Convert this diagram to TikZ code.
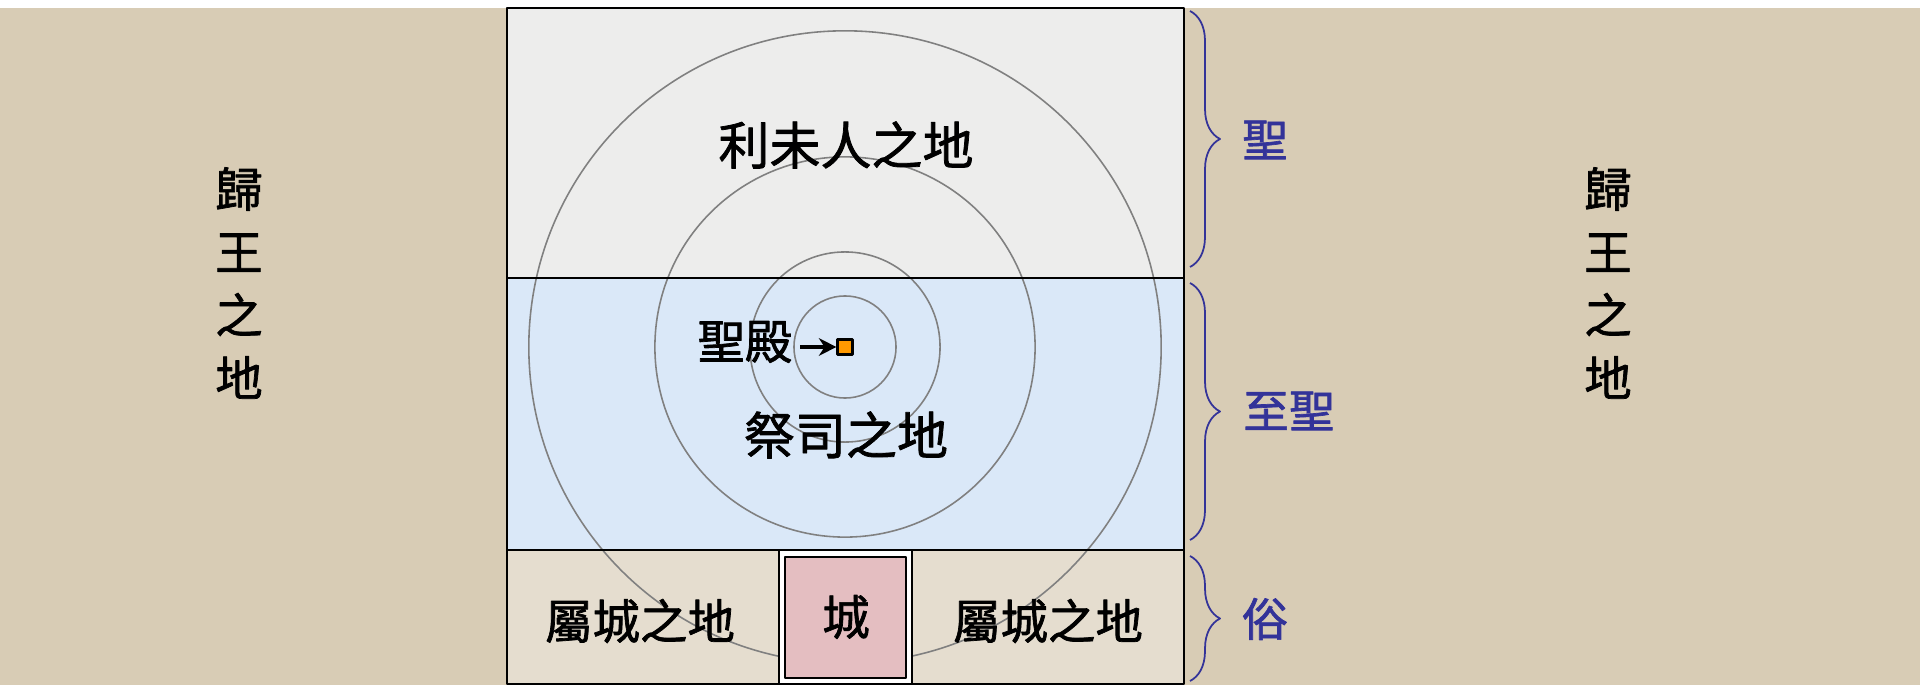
\documentclass[tikz,border=0pt]{standalone}
\usepackage{fontspec}
\setmainfont{Noto Sans CJK TC}[BoldFont=Noto Sans CJK TC, BoldFeatures={FakeBold=1.5}]
\usetikzlibrary{decorations.pathreplacing,arrows.meta}
\definecolor{canvas}{RGB}{216,204,181}
\definecolor{zonetop}{RGB}{237,237,236}
\definecolor{zonemid}{RGB}{218,232,248}
\definecolor{zonelow}{RGB}{229,221,207}
\definecolor{citypink}{RGB}{228,190,193}
\definecolor{holyblue}{RGB}{51,51,153}
\definecolor{sqorange}{RGB}{255,153,0}
\tikzset{
  edge/.style={line width=0.6pt, draw=black},
  ring/.style={line width=0.45pt, draw=black!50},
  bigtext/.style={font=\fontsize{14.5}{17}\bfseries},
  midtext/.style={font=\fontsize{13.5}{16}\bfseries},
  vtext/.style={font=\fontsize{13.5}{17.9}\bfseries, align=center},
  holy/.style={font=\fontsize{13}{16}\bfseries, text=holyblue},
  bracket/.style={draw=holyblue, line width=0.5pt, decorate, decoration={brace, amplitude=0.3cm}},
  sanctum/.style={draw=black, fill=sqorange, line width=0.6pt, minimum size=0.15cm, inner sep=0pt}
}
\begin{document}
\begin{tikzpicture}[x=0.01cm, y=-0.01cm, >={Stealth[length=5pt,width=5pt]}, line join=round]
\useasboundingbox (0,0) rectangle (1920,685);
% nền
\fill[white] (0,0) rectangle (1920,685);
\fill[canvas] (0,8) rectangle (1920,685);
% ba vùng giữa
\fill[zonetop] (507,8) rectangle (1184,278);
\fill[zonemid] (507,278) rectangle (1184,550);
\fill[zonelow] (507,550) rectangle (1184,684);
% các vòng tròn
\foreach \r in {0.51,0.95,1.90,3.16}
\draw[ring] (845,347) circle[radius=\r cm];
% khung
\draw[edge] (507,8) rectangle (1184,684);
\draw[edge] (507,278)--(1184,278);
\draw[edge] (507,550)--(1184,550);
\draw[edge, fill=white] (779,550) rectangle (912,684);
\draw[edge, fill=citypink] (785,557) rectangle (906,678);
% chữ
\node[bigtext] (levi) at (846,145) {利未人之地};
\node[bigtext] (priest) at (846,435) {祭司之地};
\node[midtext, inner sep=2pt] (temple) at (745,342) {聖殿};
\node[sanctum] (sanct) at (845,347) {};
\draw[->, line width=0.9pt] (temple.east |- sanct) -- (sanct.west);
\node[midtext] (landL) at (640,621) {屬城之地};
\node[midtext] (landR) at (1048,621) {屬城之地};
\node[midtext] (city) at (846,617) {城};
\node[vtext] (kingL) at (239,283) {歸\\王\\之\\地};
\node[vtext] (kingR) at (1608,283) {歸\\王\\之\\地};
% ngoặc bên phải
\draw[bracket] (1190,11)--(1190,267);
\draw[bracket] (1190,283)--(1190,540);
\draw[bracket] (1190,556)--(1190,681);
\node[holy] (holy) at (1265,140) {聖};
\node[holy] (holiest) at (1289,411) {至聖};
\node[holy] (common) at (1265,619) {俗};
\end{tikzpicture}
\end{document}
